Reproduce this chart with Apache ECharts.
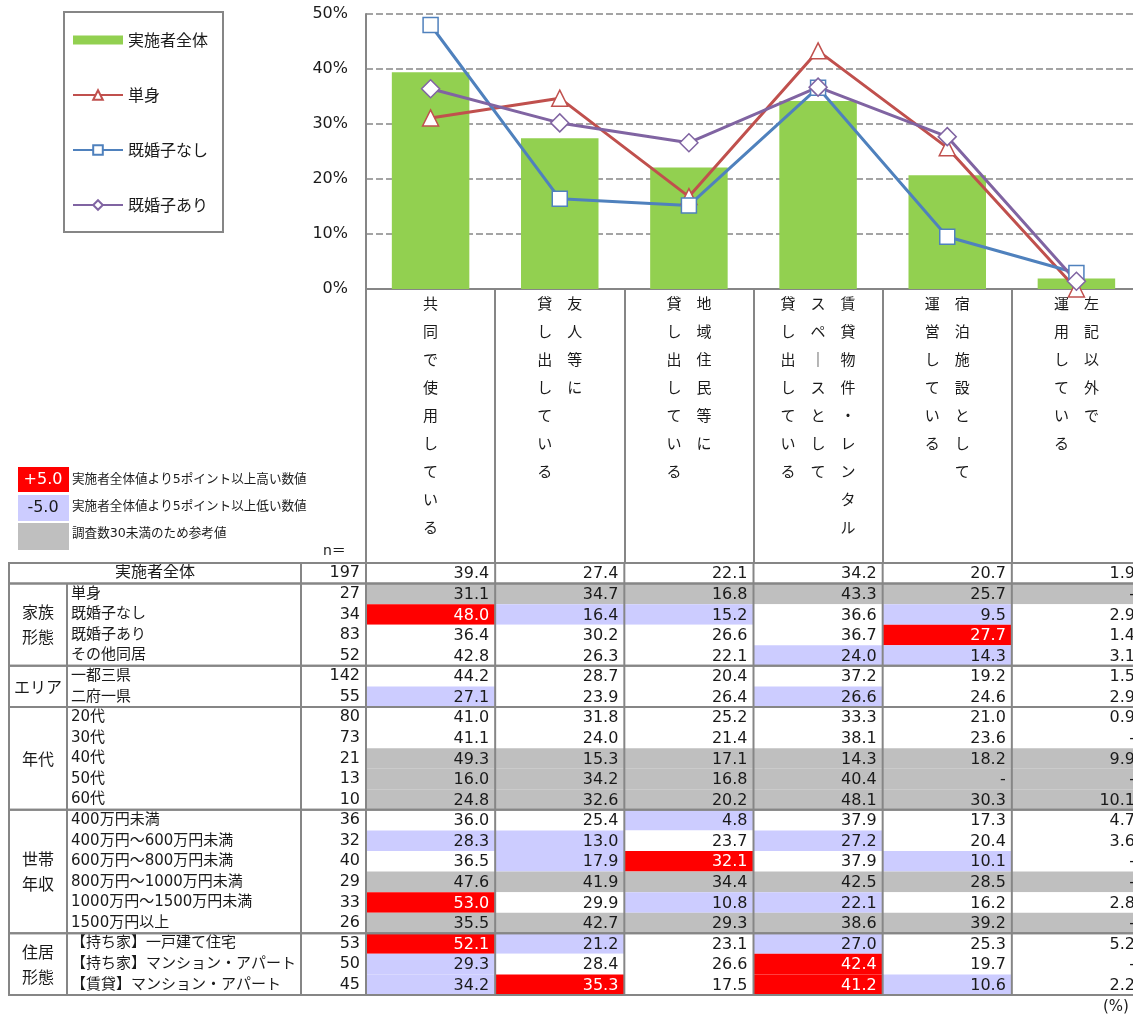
<!DOCTYPE html>
<html lang="ja">
<head>
<meta charset="utf-8">
<title>空き家の活用方法</title>
<script src="https://cdn.jsdelivr.net/npm/echarts/dist/echarts.min.js"></script>
<style>
  html, body { margin: 0; padding: 0; background: #fff; }
  #main { width: 1133px; height: 1016px; }
</style>
</head>
<body>
<div id="main"></div>
<script>
// 分類ラベル（縦書き：配列の先頭が右端の列）
const categoryColumns = [
  ['共同で使用している'],
  ['友人等に', '貸し出している'],
  ['地域住民等に', '貸し出している'],
  ['賃貸物件・レンタル', 'スペースとして', '貸し出している'],
  ['宿泊施設として', '運営している'],
  ['左記以外で', '運用している']
]
const categories = categoryColumns.map(c => c.join(''))

// 表の行
const rowLabels = ['実施者全体', '単身', '既婚子なし', '既婚子あり', 'その他同居',
  '一都三県', '二府一県', '20代', '30代', '40代', '50代', '60代',
  '400万円未満', '400万円～600万円未満', '600万円～800万円未満', '800万円～1000万円未満',
  '1000万円～1500万円未満', '1500万円以上',
  '【持ち家】一戸建て住宅', '【持ち家】マンション・アパート', '【賃貸】マンション・アパート']
const nValues = [197, 27, 34, 83, 52, 142, 55, 80, 73, 21, 13, 10, 36, 32, 40, 29, 33, 26, 53, 50, 45]

// 各分類の値（%）、null は「-」
const col1 = [39.4, 31.1, 48.0, 36.4, 42.8, 44.2, 27.1, 41.0, 41.1, 49.3, 16.0, 24.8, 36.0, 28.3, 36.5, 47.6, 53.0, 35.5, 52.1, 29.3, 34.2]
const col2 = [27.4, 34.7, 16.4, 30.2, 26.3, 28.7, 23.9, 31.8, 24.0, 15.3, 34.2, 32.6, 25.4, 13.0, 17.9, 41.9, 29.9, 42.7, 21.2, 28.4, 35.3]
const col3 = [22.1, 16.8, 15.2, 26.6, 22.1, 20.4, 26.4, 25.2, 21.4, 17.1, 16.8, 20.2, 4.8, 23.7, 32.1, 34.4, 10.8, 29.3, 23.1, 26.6, 17.5]
const col4 = [34.2, 43.3, 36.6, 36.7, 24.0, 37.2, 26.6, 33.3, 38.1, 14.3, 40.4, 48.1, 37.9, 27.2, 37.9, 42.5, 22.1, 38.6, 27.0, 42.4, 41.2]
const col5 = [20.7, 25.7, 9.5, 27.7, 14.3, 19.2, 24.6, 21.0, 23.6, 18.2, null, 30.3, 17.3, 20.4, 10.1, 28.5, 16.2, 39.2, 25.3, 19.7, 10.6]
const col6 = [1.9, null, 2.9, 1.4, 3.1, 1.5, 2.9, 0.9, null, 9.9, null, 10.1, 4.7, 3.6, null, null, 2.8, null, 5.2, null, 2.2]
const tableCols = [col1, col2, col3, col4, col5, col6]

// 属性グループ
const groupLabels = ['', '家族\n形態', 'エリア', '年代', '世帯\n年収', '住居\n形態']
const groupStarts = [0, 1, 5, 7, 12, 18]
const groupEnds = [0, 4, 6, 11, 17, 20]

// y軸
const yMax = 50
const yStep = 10

const rowValues = i => tableCols.map(c => (c[i] === null ? 0 : c[i]))
const seriesAll = rowValues(0)
const seriesSingle = rowValues(1)
const seriesNoKids = rowValues(2)
const seriesKids = rowValues(3)

const FONT = "'DejaVu Sans', 'Noto Sans CJK JP', sans-serif"
const CJK = "'Noto Sans CJK JP', sans-serif"
const TEXT = '#1a1a1a'
const LINE = '#868686'
const RED = '#FF0000'
const LAVENDER = '#CCCCFF'
const GRAY = '#BFBFBF'

// 表の左側の列幅
const groupColW = 58
const labelColW = 234
const nColW = 65

// セルの色分け（5ポイント差・n<30）
const cells = []
tableCols.forEach((col, ci) => {
  col.forEach((v, ri) => {
    const d = (v === null ? 0 : v) - tableCols[ci][0]
    let bg = '#fff'
    if (ri > 0) {
      if (nValues[ri] < 30) bg = GRAY
      else if (d >= 5) bg = RED
      else if (d <= -5) bg = LAVENDER
    }
    cells.push({ col: ci, row: ri, bg, fg: bg === RED ? '#fff' : TEXT, text: v === null ? '-' : v.toFixed(1) })
  })
})

// 縦書きラベル
function verticalLabel (value, idx) {
  const cols = categoryColumns[idx].slice().reverse()
  const len = Math.max.apply(null, cols.map(c => c.length))
  const rows = []
  for (let r = 0; r < len; r++) {
    rows.push(cols.map(c => (c[r] || '　').replace('ー', '｜')).join('　'))
  }
  return rows.join('\n')
}

const myChart = echarts.init(document.getElementById('main'))
myChart.setOption({
  animation: false,
  backgroundColor: '#fff',
  legend: {
    orient: 'vertical',
    left: 64,
    top: 12,
    padding: [20, 15, 19, 8],
    itemGap: 39,
    itemWidth: 50,
    itemHeight: 12,
    borderColor: LINE,
    borderWidth: 2,
    textStyle: { fontSize: 16, fontFamily: CJK, color: TEXT, lineHeight: 16 },
    data: [
      { name: '実施者全体', icon: 'path://M0,0h50v9h-50z' },
      '単身', '既婚子なし', '既婚子あり'
    ]
  },
  grid: [
    { left: 366, right: -8, top: 14, height: 275, outerBoundsMode: 'none' },
    { left: 366, right: -8, top: 563, bottom: 21, outerBoundsMode: 'none' }
  ],
  xAxis: [
    {
      type: 'category',
      gridIndex: 0,
      data: categories,
      axisLine: { lineStyle: { color: LINE, width: 2 } },
      axisTick: { show: true, length: 273, interval: 0, lineStyle: { color: LINE, width: 2 } },
      axisLabel: {
        interval: 0,
        margin: 0,
        fontSize: 15,
        lineHeight: 28,
        fontFamily: CJK,
        color: TEXT,
        formatter: verticalLabel
      },
      splitLine: { show: false }
    },
    {
      type: 'category',
      gridIndex: 1,
      data: categories,
      axisLine: { show: false },
      axisTick: { show: false },
      axisLabel: { show: false },
      splitLine: { show: false }
    }
  ],
  yAxis: [
    {
      type: 'value',
      gridIndex: 0,
      min: 0,
      max: yMax,
      interval: yStep,
      axisLine: { show: true, lineStyle: { color: LINE, width: 2 } },
      axisTick: { show: false },
      axisLabel: { formatter: '{value}%', fontSize: 16, fontFamily: FONT, color: TEXT, margin: 18 },
      splitLine: { lineStyle: { color: LINE, width: 1.5, type: [7, 3] } }
    },
    {
      type: 'category',
      gridIndex: 1,
      inverse: true,
      data: rowLabels,
      axisLine: { show: false },
      axisTick: { show: false },
      splitLine: { show: false },
      axisLabel: {
        interval: 0,
        margin: 6,
        fontFamily: FONT,
        fontSize: 16,
        color: TEXT,
        formatter: (value, idx) => idx === 0
          ? '{tot|' + value + '}{n|' + nValues[idx] + '}'
          : '{lbl|' + value + '}{n|' + nValues[idx] + '}',
        rich: {
          tot: { width: groupColW + labelColW, align: 'center', fontSize: 16, fontFamily: FONT, color: TEXT },
          lbl: { width: labelColW - 4, align: 'left', fontSize: 15, fontFamily: FONT, color: TEXT },
          n: { width: nColW - 6, align: 'right', fontSize: 16, fontFamily: FONT, color: TEXT }
        }
      }
    }
  ],
  series: [
    {
      name: '実施者全体',
      type: 'bar',
      xAxisIndex: 0,
      yAxisIndex: 0,
      data: seriesAll,
      barWidth: '60%',
      itemStyle: { color: '#92D050' },
      z: 2
    },
    {
      name: '単身',
      type: 'line',
      data: seriesSingle,
      symbol: 'triangle',
      symbolSize: 16,
      lineStyle: { color: '#C0504D', width: 3 },
      itemStyle: { color: '#fff', borderColor: '#C0504D', borderWidth: 1.5 },
      z: 3
    },
    {
      name: '既婚子なし',
      type: 'line',
      data: seriesNoKids,
      symbol: 'rect',
      symbolSize: 15,
      lineStyle: { color: '#4F81BD', width: 3 },
      itemStyle: { color: '#fff', borderColor: '#4F81BD', borderWidth: 1.5 },
      z: 3
    },
    {
      name: '既婚子あり',
      type: 'line',
      data: seriesKids,
      symbol: 'diamond',
      symbolSize: 18,
      lineStyle: { color: '#8064A2', width: 3 },
      itemStyle: { color: '#fff', borderColor: '#8064A2', borderWidth: 1.5 },
      z: 3
    },
    // 表のセル
    {
      type: 'custom',
      xAxisIndex: 1,
      yAxisIndex: 1,
      clip: false,
      silent: true,
      z: 2,
      data: cells.map(c => [c.col, c.row]),
      encode: { x: 0, y: 1 },
      renderItem: (params, api) => {
        const cell = cells[params.dataIndex]
        const p = api.coord([cell.col, cell.row])
        const s = api.size([1, 1])
        return {
          type: 'group',
          children: [
            { type: 'rect', shape: { x: p[0] - s[0] / 2, y: p[1] - s[1] / 2, width: s[0], height: s[1] }, style: { fill: cell.bg } },
            { type: 'text', style: { text: cell.text, x: p[0] + s[0] / 2 - 6, y: p[1] + 1, align: 'right', verticalAlign: 'middle', fill: cell.fg, fontSize: 16, fontFamily: FONT } }
          ]
        }
      }
    },
    // 表の罫線と属性名
    {
      type: 'custom',
      xAxisIndex: 1,
      yAxisIndex: 1,
      clip: false,
      silent: true,
      z: 4,
      data: groupStarts.map(s => [0, s]),
      encode: { x: 0, y: 1 },
      renderItem: (params, api) => {
        const i = params.dataIndex
        const cs = params.coordSys
        const rowH = api.size([1, 1])[1]
        const colW = api.size([1, 1])[0]
        const top = api.coord([0, groupStarts[i]])[1] - rowH / 2
        const bottom = api.coord([0, groupEnds[i]])[1] + rowH / 2
        const left = cs.x - groupColW - labelColW - nColW
        const right = cs.x + cs.width
        const lineStyle = { stroke: LINE, lineWidth: 2 }
        const vline = x => ({ type: 'line', shape: { x1: x, y1: top, x2: x, y2: bottom }, style: lineStyle })
        const children = [
          { type: 'rect', shape: { x: left, y: top, width: right - left, height: bottom - top }, style: { fill: null, stroke: LINE, lineWidth: 2 } },
          vline(cs.x - nColW),
          vline(cs.x)
        ]
        for (let k = 1; k < categories.length; k++) children.push(vline(cs.x + k * colW))
        if (groupLabels[i]) {
          children.push(vline(left + groupColW))
          children.push({
            type: 'text',
            style: {
              text: groupLabels[i],
              x: left + groupColW / 2,
              y: (top + bottom) / 2,
              align: 'center',
              verticalAlign: 'middle',
              lineHeight: 25,
              fill: TEXT,
              fontSize: 16,
              fontFamily: CJK
            }
          })
        }
        return { type: 'group', children }
      }
    }
  ],
  graphic: [
    { type: 'rect', shape: { x: 18, y: 467, width: 51, height: 25 }, style: { fill: RED } },
    { type: 'text', x: 43, y: 480, style: { text: '+5.0', fill: '#fff', fontSize: 16, fontFamily: FONT, align: 'center', verticalAlign: 'middle' } },
    { type: 'rect', shape: { x: 18, y: 495, width: 51, height: 26 }, style: { fill: LAVENDER } },
    { type: 'text', x: 43, y: 508, style: { text: '-5.0', fill: TEXT, fontSize: 16, fontFamily: FONT, align: 'center', verticalAlign: 'middle' } },
    { type: 'rect', shape: { x: 18, y: 523, width: 51, height: 27 }, style: { fill: GRAY } },
    { type: 'text', x: 72, y: 480, style: { text: '実施者全体値より5ポイント以上高い数値', fill: TEXT, fontSize: 12.6, fontFamily: FONT, verticalAlign: 'middle' } },
    { type: 'text', x: 72, y: 507, style: { text: '実施者全体値より5ポイント以上低い数値', fill: TEXT, fontSize: 12.6, fontFamily: FONT, verticalAlign: 'middle' } },
    { type: 'text', x: 72, y: 534, style: { text: '調査数30未満のため参考値', fill: TEXT, fontSize: 12.6, fontFamily: FONT, verticalAlign: 'middle' } },
    { type: 'text', x: 323, y: 551, style: { text: 'n＝', fill: TEXT, fontSize: 14, fontFamily: FONT, verticalAlign: 'middle' } },
    { type: 'text', x: 1103, y: 1007, style: { text: '(%)', fill: TEXT, fontSize: 15, fontFamily: FONT, verticalAlign: 'middle' } }
  ]
})
</script>
</body>
</html>
